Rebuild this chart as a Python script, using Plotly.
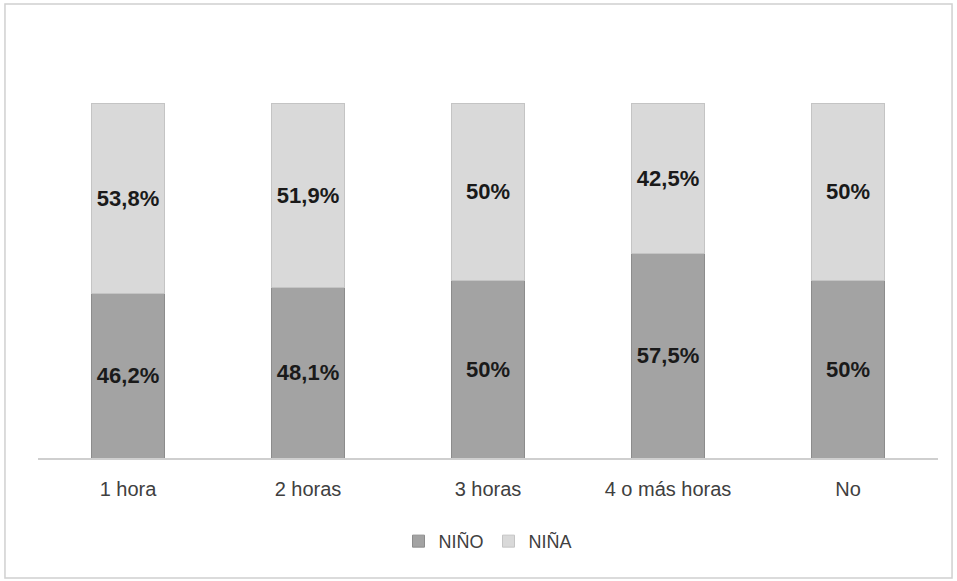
import plotly.graph_objects as go

categories = ["1 hora", "2 horas", "3 horas", "4 o más horas", "No"]
nino = [46.2, 48.1, 50, 57.5, 50]
nina = [53.8, 51.9, 50, 42.5, 50]

def lab(v):
    return f"{v:g}".replace(".", ",") + "%"

fig = go.Figure()
fig.add_trace(go.Bar(
    name="NIÑO", x=categories, y=nino, text=[lab(v) for v in nino],
    marker=dict(color="#a3a3a3", line=dict(color="#8c8c8c", width=1)),
))
fig.add_trace(go.Bar(
    name="NIÑA", x=categories, y=nina, text=[lab(v) for v in nina],
    marker=dict(color="#d9d9d9", line=dict(color="#c4c4c4", width=1)),
))
fig.update_traces(textposition="inside", insidetextanchor="middle",
                  constraintext="none",
                  textfont=dict(family="Liberation Sans", size=22, color="#1a1a1a"),
                  texttemplate="<b>%{text}</b>")

fig.update_layout(
    barmode="stack", bargap=0.59,
    width=957, height=581,
    margin=dict(l=38, r=19, t=103, b=123),
    paper_bgcolor="white", plot_bgcolor="white",
    font=dict(family="Liberation Sans", color="#404040"),
    xaxis=dict(showline=True, linecolor="#cfcfcf", linewidth=1.5,
               ticks="", tickfont=dict(size=20, color="#404040"),
               ticklabelstandoff=12, showgrid=False),
    yaxis=dict(range=[0, 100], visible=False, showgrid=False),
    legend=dict(orientation="h", x=0.5, xanchor="center", y=-0.235,
                yanchor="middle", font=dict(size=18, color="#404040"),
                itemwidth=30, traceorder="normal"),
    shapes=[dict(type="rect", xref="paper", yref="paper",
                 x0=-0.0367, x1=1.0156, y0=-0.338, y1=1.279,
                 line=dict(color="#d0d0d0", width=1.5))],
    showlegend=True,
)
fig.write_html("out.html", config={"displayModeBar": False},
               post_script="document.body.style.margin='0';document.body.style.overflow='hidden';")
